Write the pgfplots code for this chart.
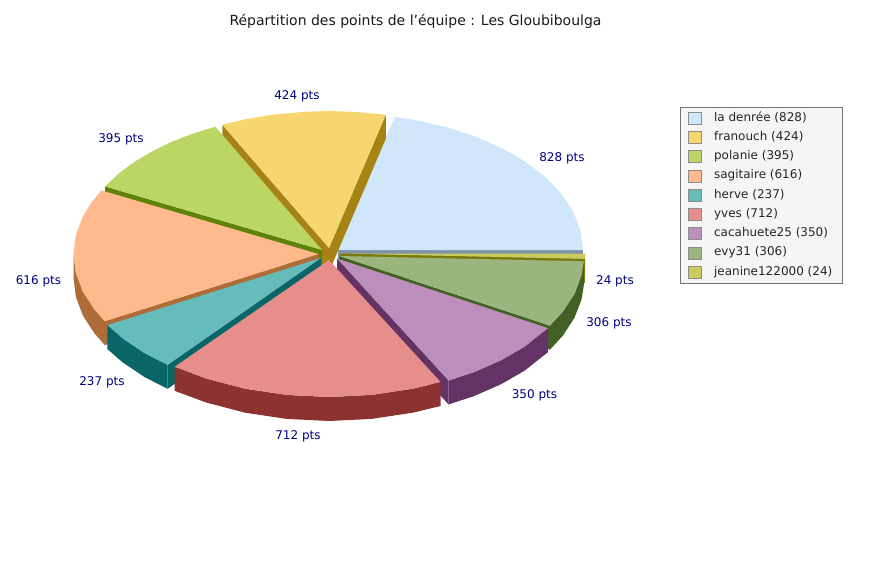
\documentclass[border=0pt]{standalone}
\usepackage{fontspec}
\setmainfont{DejaVu Sans}
\usepackage{pgfplots}
\pgfplotsset{compat=1.18}

\definecolor{denreeT}{HTML}{CFE6FB}\definecolor{denreeW}{HTML}{7F93A8}
\definecolor{franT}{HTML}{F8D66F}\definecolor{franW}{HTML}{A68314}
\definecolor{polT}{HTML}{BBD664}\definecolor{polW}{HTML}{5F8208}
\definecolor{sagT}{HTML}{FFB98C}\definecolor{sagW}{HTML}{AD6C38}
\definecolor{herT}{HTML}{66BBBB}\definecolor{herW}{HTML}{0A6666}
\definecolor{yveT}{HTML}{E68E8C}\definecolor{yveW}{HTML}{8C3331}
\definecolor{cacT}{HTML}{BB8EBB}\definecolor{cacW}{HTML}{623364}
\definecolor{evyT}{HTML}{9BB57E}\definecolor{evyW}{HTML}{426023}
\definecolor{jeaT}{HTML}{CCCB60}\definecolor{jeaW}{HTML}{7A7A08}
\definecolor{lblue}{HTML}{000080}

\begin{document}
\begin{tikzpicture}[lbl/.style={font=\fontsize{12}{14}\selectfont, text=lblue}]
\begin{axis}[
  scale only axis, width=885pt, height=560pt,
  xmin=0, xmax=885, ymin=0, ymax=560, y dir=reverse,
  axis lines=none, clip=false,
  legend image code/.code={\draw[#1] (0pt,-6pt) rectangle (12.5pt,6pt);},
  legend cell align=left,
  legend style={at={(axis cs:680,106.5)}, anchor=north west,
    draw=black!55, fill=black!4, text=black!85, row sep=6.85pt,
    inner xsep=8pt, inner ysep=5.2pt,
    font=\fontsize{12}{14}\selectfont,
    /tikz/every odd column/.append style={column sep=11pt},
    nodes={text height=9pt, text depth=3pt, inner ysep=0pt, inner xsep=2pt}},
  every axis plot/.append style={draw=none, mark=none, forget plot},
]
\path[use as bounding box] (axis cs:0,0) rectangle (axis cs:885,560);

% la denree
\addplot[fill=denreeW] coordinates {(338,250) (583,250) (583,274) (338,274)};
\addplot[fill=denreeT] coordinates {(338,250) (583,250) (580.6,230.9) (573.5,212.2) (561.8,194.3) (545.8,177.4) (525.7,161.9) (501.9,148.2) (475,136.4) (445.4,126.9) (413.7,119.7) (394.8,116.7)};

% franouch
\addplot[fill=franW] coordinates {(329,248) (385.8,114.7) (385.8,138.7) (329,272)};
\addplot[fill=franW] coordinates {(329,248) (222.3,124.7) (222.3,148.7) (329,272)};
\addplot[fill=franT] coordinates {(329,248) (385.8,114.7) (354.6,111.8) (329,111) (303.4,111.8) (269.7,115.1) (245.2,119.3) (222.3,124.7)};

% polanie
\addplot[fill=polW] coordinates {(322,250) (105,186.4) (105,210.4) (322,274)};
\addplot[fill=polT] coordinates {(322,250) (215.3,126.7) (192.2,133.8) (171.2,142) (151.8,151.5) (134.3,161.9) (118.9,173.4) (105,186.4)};

% sagitaire
\addplot[fill=sagW] coordinates {(318.5,254) (104.9,321.1) (104.9,345.1) (318.5,278)};
\addplot[fill=sagW] coordinates {(73.5,254) (75.9,273.1) (83,291.8) (94.7,309.7) (104.9,321.1) (104.9,345.1) (94.7,333.7) (83,315.8) (75.9,297.1) (73.5,278)};
\addplot[fill=sagT] coordinates {(318.5,254) (101.5,190.4) (91.3,202.7) (83,216.2) (75.9,234.9) (73.5,254) (75.9,273.1) (83,291.8) (94.7,309.7) (104.9,321.1)};

% herve
\addplot[fill=herW] coordinates {(321,258) (167.6,364.8) (167.6,388.8) (321,282)};
\addplot[fill=herW] coordinates {(107.4,325.1) (122.8,338.5) (144.8,353.2) (167.6,364.8) (167.6,388.8) (144.8,377.2) (122.8,362.5) (107.4,349.1)};
\addplot[fill=herT] coordinates {(321,258) (107.4,325.1) (122.8,338.5) (144.8,353.2) (167.6,364.8)};

% jeanine122000
\addplot[fill=jeaW] coordinates {(340,253.5) (584.8,258.8) (584.8,282.8) (340,277.5)};
\addplot[fill=jeaW] coordinates {(584.8,258.8) (585,253.5) (585,277.5) (584.8,282.8)};
\addplot[fill=jeaT] coordinates {(340,253.5) (585,253.5) (584.8,258.8)};

% evy31
\addplot[fill=evyW] coordinates {(339,256) (550,325.6) (550,349.6) (339,280)};
\addplot[fill=evyW] coordinates {(550,325.6) (562.8,311.7) (574.5,293.8) (581.6,275.1) (583.8,261.3) (583.8,285.3) (581.6,299.1) (574.5,317.8) (562.8,335.7) (550,349.6)};
\addplot[fill=evyT] coordinates {(339,256) (550,325.6) (562.8,311.7) (574.5,293.8) (581.6,275.1) (583.8,261.3)};

% cacahuete25
\addplot[fill=cacW] coordinates {(337,258.5) (448.6,380.5) (448.6,404.5) (337,282.5)};
\addplot[fill=cacW] coordinates {(448.6,380.5) (474,372.1) (500.9,360.3) (524.7,346.6) (548,328.1) (548,352.1) (524.7,370.6) (500.9,384.3) (474,396.1) (448.6,404.5)};
\addplot[fill=cacT] coordinates {(337,258.5) (448.6,380.5) (474,372.1) (500.9,360.3) (524.7,346.6) (548,328.1)};

% yves
\addplot[fill=yveW] coordinates {(174.6,366.8) (206.5,378.6) (245.2,388.7) (286.5,394.9) (329,397) (371.5,394.9) (412.8,388.7) (440.6,382) (440.6,406) (412.8,412.7) (371.5,418.9) (329,421) (286.5,418.9) (245.2,412.7) (206.5,402.6) (174.6,390.8)};
\addplot[fill=yveT] coordinates {(329,260) (174.6,366.8) (206.5,378.6) (245.2,388.7) (286.5,394.9) (329,397) (371.5,394.9) (412.8,388.7) (440.6,382)};

% legend, in the reference's order
\addlegendimage{fill=denreeT, draw=black!45}\addlegendentry{la denrée (828)}
\addlegendimage{fill=franT, draw=black!45}\addlegendentry{franouch (424)}
\addlegendimage{fill=polT, draw=black!45}\addlegendentry{polanie (395)}
\addlegendimage{fill=sagT, draw=black!45}\addlegendentry{sagitaire (616)}
\addlegendimage{fill=herT, draw=black!45}\addlegendentry{herve (237)}
\addlegendimage{fill=yveT, draw=black!45}\addlegendentry{yves (712)}
\addlegendimage{fill=cacT, draw=black!45}\addlegendentry{cacahuete25 (350)}
\addlegendimage{fill=evyT, draw=black!45}\addlegendentry{evy31 (306)}
\addlegendimage{fill=jeaT, draw=black!45}\addlegendentry{jeanine122000 (24)}

\node[font=\fontsize{14}{17}\selectfont, text=black!90] at (axis cs:415.5,21) {Répartition des points de l’équipe : Les Gloubiboulga};

\node[lbl] at (axis cs:562,158.5) {828 pts};
\node[lbl] at (axis cs:297,96.5) {424 pts};
\node[lbl] at (axis cs:121,139.5) {395 pts};
\node[lbl] at (axis cs:38.5,281) {616 pts};
\node[lbl] at (axis cs:102,382.5) {237 pts};
\node[lbl] at (axis cs:298,436.5) {712 pts};
\node[lbl] at (axis cs:534.5,395.5) {350 pts};
\node[lbl] at (axis cs:609,323.5) {306 pts};
\node[lbl] at (axis cs:615,281) {24 pts};
\end{axis}
\end{tikzpicture}
\end{document}
